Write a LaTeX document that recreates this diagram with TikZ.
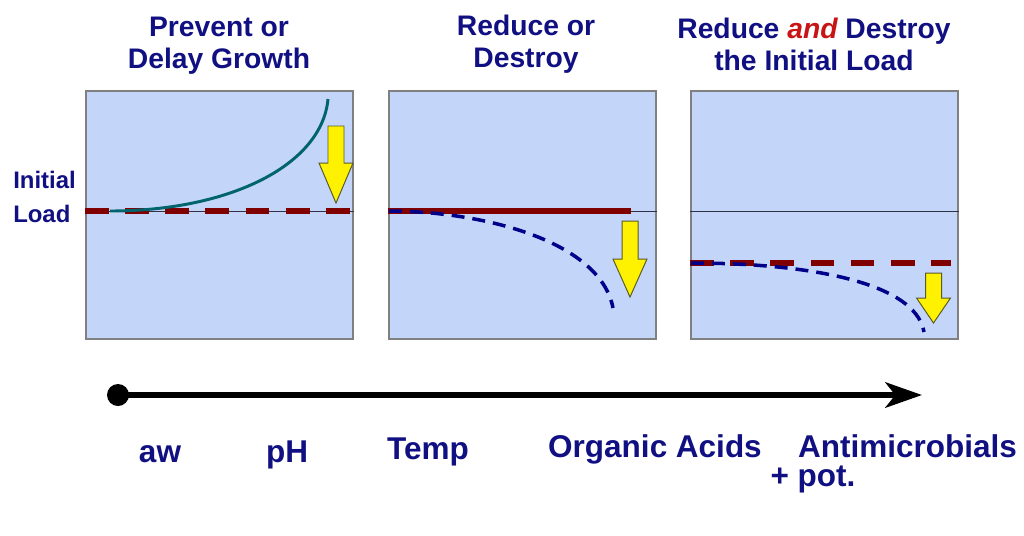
\documentclass[tikz,border=0pt]{standalone}
\usepackage{fontspec}
\setsansfont{Liberation Sans}
\usepackage{xcolor}
\usepackage{tikz}
\usetikzlibrary{arrows.meta, positioning}

\definecolor{textblue}{RGB}{16,16,130}
\definecolor{panelblue}{RGB}{195,213,248}
\definecolor{loadred}{RGB}{128,0,0}
\definecolor{curveblue}{RGB}{0,0,139}
\definecolor{growteal}{RGB}{0,100,110}
\definecolor{andred}{RGB}{200,20,20}

% yellow arrow: x, top, neck, tip
\newcommand{\droparrow}[4]{%
  \draw[droparrow] (#1-8,#2) -- (#1+8,#2) -- (#1+8,#3) -- (#1+17,#3) -- (#1,#4)
    -- (#1-17,#3) -- (#1-8,#3) -- cycle;}

\begin{document}
\begin{tikzpicture}[x=0.025cm, y=-0.025cm]
\tikzstyle{panel} = [rectangle, draw={rgb,255:red,128;green,128;blue,128}, line width=1pt, fill=panelblue, minimum width=6.675cm, minimum height=6.2cm, inner sep=0]
\tikzstyle{title} = [font=\sffamily\bfseries\fontsize{20.1pt}{22.5pt}\selectfont, text=textblue, align=center, anchor=base, inner sep=0]
\tikzstyle{factor} = [font=\sffamily\bfseries\fontsize{22.4pt}{26pt}\selectfont, text=textblue, anchor=base, inner sep=0]
\tikzstyle{baseline} = [line width=0.6pt, draw={rgb,255:red,50;green,50;blue,70}]
\tikzstyle{loaddash} = [line width=4.8pt, loadred, dash pattern=on 17pt off 11.5pt]
\tikzstyle{killcurve} = [line width=2.5pt, curveblue, dash pattern=on 9.2pt off 5.7pt]
\tikzstyle{droparrow} = [fill=yellow, draw={rgb,255:red,90;green,90;blue,40}, line width=0.7pt]
\tikzstyle{axis} = [line width=4.3pt, -{Stealth[length=26pt, width=18pt, inset=7pt]}]

\useasboundingbox (0,0) rectangle (1024,535);

% titles (anchored at the last line)
\node (t1) [title] at (219,68) {Prevent or\\Delay Growth};
\node (t2) [title] at (526,67) {Reduce or\\Destroy};
\node (t3) [title] at (814,70) {Reduce \textcolor{andred}{\itshape and} Destroy\\the Initial Load};

\node (load) [font=\sffamily\bfseries\fontsize{17pt}{24pt}\selectfont, text=textblue, align=left, anchor=base west, inner sep=0] at (13,222) {Initial\\Load};

% panels
\node (p1) [panel] at (219.5,215) {};
\node (p2) [panel] at (522.5,215) {};
\node (p3) [panel] at (824.5,215) {};

% panel 1: growth prevented
\draw [baseline] (p1.west |- 0,211) -- (p1.east |- 0,211);
\draw [loaddash] (p1.west |- 0,211) -- (p1.east |- 0,211);
\draw [growteal, line width=2.1pt] (110,211) .. controls (230,211) and (322,165) .. (328,99);
\droparrow{336}{126}{163}{203}

% panel 2: reduce or destroy
\draw [baseline] (p2.west |- 0,211) -- (p2.east |- 0,211);
\draw [loadred, line width=4.8pt] (p2.west |- 0,211) -- (631,211);
\draw [killcurve] (389,211) .. controls (480,211) and (600,240) .. (613,308);
\droparrow{630}{221}{259}{297}

% panel 3: reduce and destroy
\draw [baseline] (p3.west |- 0,211) -- (p3.east |- 0,211);
\draw [loaddash] (p3.west |- 0,263) -- (951,263);
\draw [killcurve] (691,263) .. controls (800,263) and (915,280) .. (924,332);
\droparrow{933.5}{273}{298}{323}

% hurdle axis
\node (start) [circle, fill=black, minimum size=0.55cm, inner sep=0] at (118,395) {};
\coordinate (end) at (922,395);
\draw [axis] (start.center) -- (end);

\node (aw) [factor] at (160,462) {aw};
\node (ph) [factor] at (287,462) {pH};
\node (temp) [factor] at (428,459) {Temp};
\node (acids) [factor] at (655,457) {Organic Acids};
\node (anti) [factor] at (907.5,457) {Antimicrobials};
\node (pot) [factor] at (813,486) {+ pot.};
\end{tikzpicture}
\end{document}
